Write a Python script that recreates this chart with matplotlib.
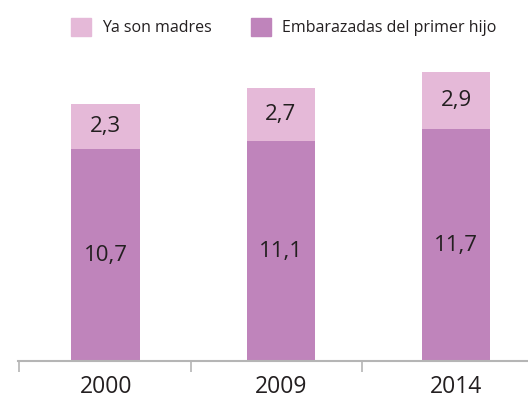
import numpy as np
import matplotlib.pyplot as plt
from matplotlib.patches import Patch

years = ["2000", "2009", "2014"]
embarazadas = [10.7, 11.1, 11.7]
madres = [2.3, 2.7, 2.9]

c_bottom = "#bf84bb"
c_top = "#e5b9d8"
txt = "#231f20"

plt.rcParams['font.family'] = ['Open Sans', 'DejaVu Sans']

fig = plt.figure(figsize=(5.28, 3.99), dpi=100)
ax = fig.add_axes([18/528, 38/399, 510/528, 301/399])

x = np.arange(len(years))
w = 0.39
ax.bar(x, embarazadas, w, color=c_bottom)
ax.bar(x, madres, w, bottom=embarazadas, color=c_top)

for xi, b, t in zip(x, embarazadas, madres):
    ax.text(xi, b / 2, f"{b:.1f}".replace(".", ","), ha="center", va="center",
            fontsize=16, color=txt)
    ax.text(xi, b + t / 2, f"{t:.1f}".replace(".", ","), ha="center", va="center",
            fontsize=16, color=txt)

ax.set_xlim(-0.5, 2.41)
ax.set_ylim(0, 15.2)
ax.set_yticks([])
for s in ["top", "right", "left"]:
    ax.spines[s].set_visible(False)
ax.spines["bottom"].set_color("#b5b5b5")
ax.spines["bottom"].set_linewidth(1.5)

ax.set_xticks(x)
ax.set_xticklabels(years, fontsize=16.5, color=txt)
ax.tick_params(axis="x", which="major", length=0, pad=10)
ax.set_xticks([-0.495, 0.485, 1.46], minor=True)
ax.tick_params(axis="x", which="minor", length=8, width=1.2, color="#b5b5b5")

handles = [Patch(color=c_top), Patch(color=c_bottom)]
fig.legend(handles, ["Ya son madres", "Embarazadas del primer hijo"],
           loc="upper left", bbox_to_anchor=(57/528, 1 - 4/399), ncol=2,
           frameon=False, fontsize=11.5, handlelength=1.25, handleheight=1.3,
           handletextpad=0.7, columnspacing=2.4, labelcolor=txt)

fig.savefig("out.png", dpi=100)
